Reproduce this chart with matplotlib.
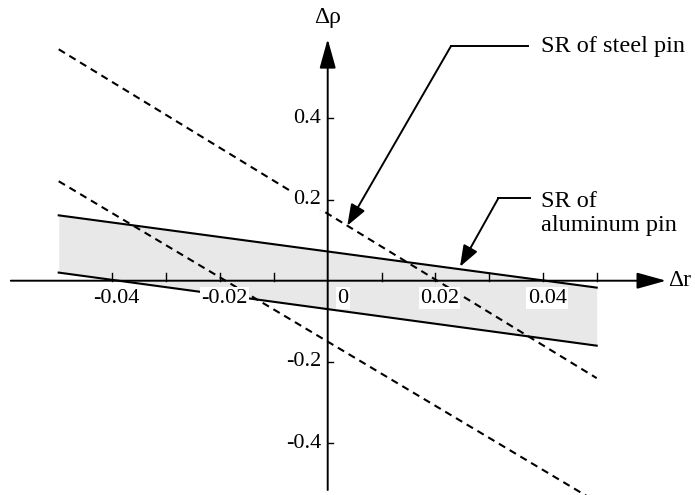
import matplotlib
matplotlib.use('Agg')
import matplotlib.pyplot as plt

plt.rcParams['font.family'] = ['Liberation Serif', 'DejaVu Serif']

# end points of each sensitivity-region boundary (Δr from -0.05 to 0.05)
dr_ends = [-0.05, 0.05]
alu_upper = [0.161, -0.017]
alu_lower = [0.020, -0.160]
steel_upper = [0.570, -0.240]
steel_lower = [0.245, -0.545]

x_ticks = [-0.04, -0.03, -0.02, -0.01, 0.01, 0.02, 0.03, 0.04, 0.05]
x_labels = {-0.04: '-0.04', -0.02: '-0.02', 0.0: '0', 0.02: '0.02', 0.04: '0.04'}
y_ticks = [-0.4, -0.2, 0.2, 0.4]
y_labels = ['-0.4', '-0.2', '0.2', '0.4']

fig = plt.figure(figsize=(6.95, 4.95), dpi=100)
ax = fig.add_axes([0, 0, 1, 1])
ax.set_xlim(-0.06091, 0.06827)
ax.set_ylim(-0.5278, 0.6914)
ax.axis('off')

# shaded region of the aluminum pin
ax.fill_between(dr_ends, alu_lower, alu_upper, color='#e8e8e8', lw=0, zorder=1)
ax.plot(dr_ends, alu_upper, color='black', lw=1.5, zorder=3)
ax.plot(dr_ends, alu_lower, color='black', lw=1.5, zorder=3)

# steel pin bounds (dashed)
for ys in (steel_upper, steel_lower):
    ax.plot(dr_ends, ys, color='black', lw=1.5, dashes=(3.5, 2.5), zorder=3)

# axes with arrowheads
axis_arrow = dict(arrowstyle='-|>,head_length=0.9,head_width=0.25', color='black',
                  lw=1.4, mutation_scale=20, shrinkA=0, shrinkB=0)
ax.annotate('', xy=(0.0629, 0), xytext=(-0.0589, 0), arrowprops=axis_arrow, zorder=4)
ax.annotate('', xy=(0, 0.5953), xytext=(0, -0.5155), arrowprops=axis_arrow, zorder=4)
ax.text(0.0632, 0, 'Δr', fontsize=17, va='center', ha='left')
ax.text(0, 0.6484, 'Δρ', fontsize=17, va='center', ha='center')

# tick marks
for t in x_ticks:
    ax.plot([t, t], [0, 0.02], color='black', lw=1.0, zorder=4)
for t in y_ticks:
    ax.plot([0, 0.0009], [t, t], color='black', lw=1.0, zorder=4)

box = dict(facecolor='white', edgecolor='none', pad=1)
for v, s in x_labels.items():
    dx = 0.0028 if v == 0 else 0.0008
    ax.text(v + dx, -0.0426, s, fontsize=16, ha='center', va='center', bbox=box, zorder=5)
for v, s in zip(y_ticks, y_labels):
    ax.text(-0.00125, v, s, fontsize=16, ha='right', va='center', bbox=box, zorder=5)

# callouts
lead = dict(arrowstyle='-|>,head_length=0.65,head_width=0.24', color='black',
            lw=1.4, mutation_scale=20, shrinkA=0, shrinkB=0)
ax.plot([0.02292, 0.03723], [0.578, 0.578], color='black', lw=1.4)
ax.annotate('', xy=(0.00364, 0.1355), xytext=(0.02292, 0.578), arrowprops=lead)
ax.text(0.03965, 0.578, 'SR of steel pin', fontsize=17.5, ha='left', va='center')

ax.plot([0.03171, 0.0376], [0.203, 0.203], color='black', lw=1.4)
ax.annotate('', xy=(0.02459, 0.0345), xytext=(0.03171, 0.203), arrowprops=lead)
ax.text(0.03965, 0.165, 'SR of\naluminum pin', fontsize=17.5, ha='left', va='center',
        linespacing=1.2)

fig.savefig('out.png', dpi=100)
